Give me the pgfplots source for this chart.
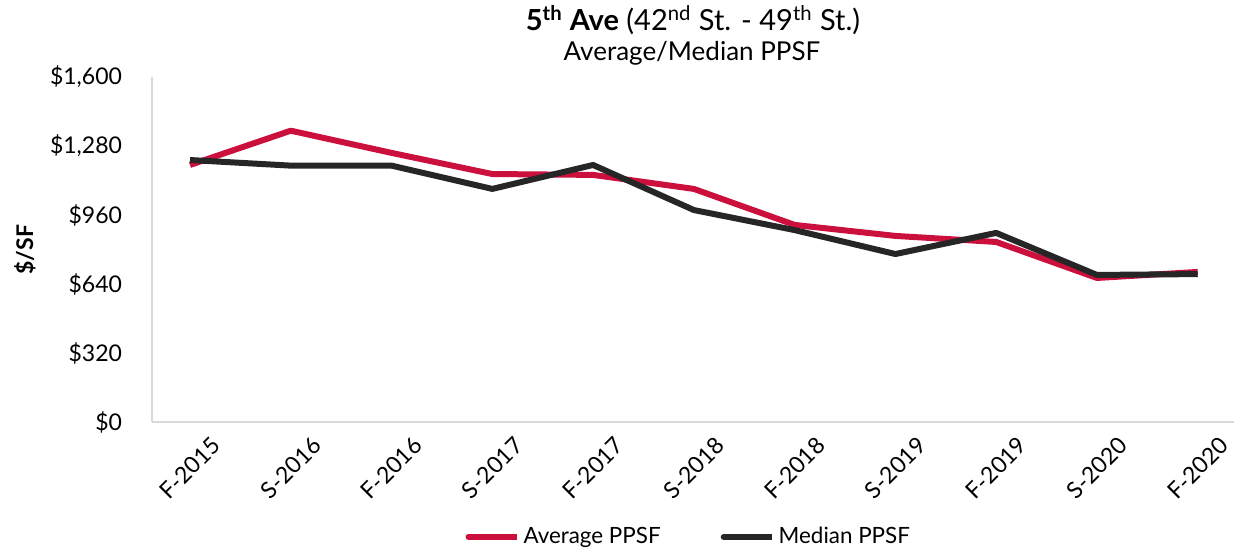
\documentclass[border=0pt]{standalone}
\usepackage{fontspec}
\setmainfont{Lato}
\usepackage{pgfplots}
\pgfplotsset{compat=1.18}
\definecolor{avgred}{RGB}{204,16,62}
\definecolor{meddark}{RGB}{38,38,38}
\definecolor{axgray}{RGB}{217,217,217}
\begin{document}
\fontsize{11.5bp}{14bp}\selectfont
\begin{tikzpicture}
\useasboundingbox (-76bp,-65bp) rectangle (542bp,211bp);
\begin{axis}[
  at={(0,0)}, anchor=south west,
  scale only axis, width=541bp, height=172.5bp,
  xmin=-0.377, xmax=10.36, ymin=0, ymax=1600,
  axis lines*=left,
  axis line style={axgray, line width=1bp},
  major tick length=0pt,
  xtick={0,...,10},
  xticklabels={F-2015,S-2016,F-2016,S-2017,F-2017,S-2018,F-2018,S-2019,F-2019,S-2020,F-2020},
  xticklabel style={yshift=-23bp, rotate=45, anchor=center, font=\fontsize{11.5bp}{14bp}\selectfont},
  ytick={0,320,...,1600},
  /pgf/number format/assume math mode=true,
  yticklabel={\$\pgfmathprintnumber[1000 sep={,}]{\tick}},
  yticklabel style={xshift=-11bp, font=\fontsize{11.5bp}{14bp}\selectfont},
  ylabel={\textbf{\$/SF}},
  every axis y label/.style={at={(axis description cs:0,0.5)}, xshift=-63.5bp, rotate=90, anchor=center, font=\fontsize{11.5bp}{14bp}\selectfont},
  legend style={at={(axis description cs:0.497,-0.333)}, anchor=center, draw=none, fill=none,
    legend columns=2, font=\fontsize{11.2bp}{14bp}\selectfont,
    /tikz/every even column/.append style={column sep=28bp}},
  legend image code/.code={\draw[#1, line width=3bp, line cap=round] (0,0) -- (19bp,0); \path (0,0) -- (24bp,0);},
  line join=round,
]
\addplot[avgred, line width=3bp] coordinates {
 (0,1192) (1,1351) (2,1248) (3,1150) (4,1146) (5,1081) (6,914) (7,863) (8,835) (9,668) (10,696)};
\addlegendentry{Average PPSF}
\addplot[meddark, line width=3bp] coordinates {
 (0,1215) (1,1189) (2,1189) (3,1081) (4,1192) (5,983) (6,890) (7,779) (8,877) (9,682) (10,686)};
\addlegendentry{Median PPSF}
\end{axis}
\node[font=\fontsize{14.5bp}{17bp}\selectfont] at (270.5bp,201bp) {\textbf{5\textsuperscript{th} Ave} (42\textsuperscript{nd} St. - 49\textsuperscript{th} St.)};
\node[font=\fontsize{13bp}{15bp}\selectfont] at (270bp,184.5bp) {Average/Median PPSF};
\end{tikzpicture}
\end{document}
